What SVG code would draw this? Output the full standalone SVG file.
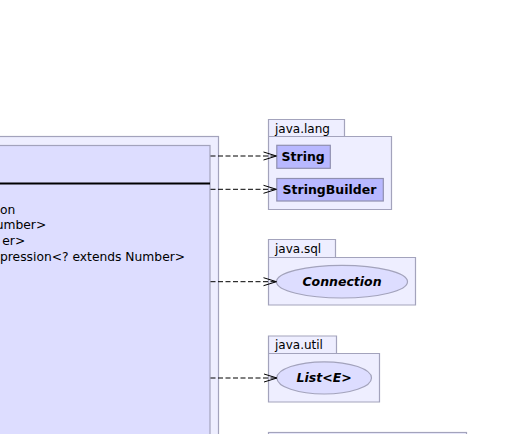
<svg xmlns="http://www.w3.org/2000/svg" width="507" height="434" viewBox="0 0 507 434">
  <defs>
    <style>
      .pkg { fill: #eeeeff; stroke: #a3a3bc; stroke-width: 1.2; }
      .cls { fill: #ddddff; stroke: #a3a3bc; stroke-width: 1.2; }
      .box { fill: #b8b8ff; stroke: #8f8fb0; stroke-width: 1.2; }
      .ell { fill: #ddddff; stroke: #a3a3bc; stroke-width: 1.2; }
      .pkgname { font-family: "DejaVu Sans", sans-serif; font-size: 12px; fill: #000; }
      .bold { font-family: "DejaVu Sans", sans-serif; font-size: 12.5px; font-weight: bold; fill: #000; }
      .ital { font-family: "DejaVu Sans", sans-serif; font-size: 12.5px; font-weight: bold; font-style: italic; fill: #000; }
      .field { font-family: "DejaVu Sans", sans-serif; font-size: 12.3px; fill: #000; }
      .dep { fill: none; stroke: #000; stroke-width: 1; stroke-dasharray: 5,2.5; }
    </style>
    <marker id="open" markerWidth="16" markerHeight="12" refX="14" refY="5" orient="auto" markerUnits="userSpaceOnUse">
      <path d="M1,1 L14,5 L1,9" fill="none" stroke="#000" stroke-width="1"/>
    </marker>
  </defs>

  <g id="main-package">
    <rect class="pkg" x="-10" y="136.5" width="228.5" height="320"/>
  </g>

  <g id="main-class">
    <rect class="cls" x="-10" y="145.5" width="220" height="310"/>
    <line x1="-10" y1="183.5" x2="210" y2="183.5" stroke="#000" stroke-width="2"/>
    <text class="field" x="0" y="213.5">on</text>
    <text class="field" x="-4.3" y="229.3">umber&gt;</text>
    <text class="field" x="2.3" y="245">er&gt;</text>
    <text class="field" x="0" y="260.6">pression&lt;? extends Number&gt;</text>
  </g>

  <g id="java.lang">
    <path class="pkg" d="M268.5,136 L268.5,119.5 L344.5,119.5 L344.5,136.5 L391.5,136.5 L391.5,209.5 L268.5,209.5 Z"/>
    <line x1="268.5" y1="136.5" x2="344.5" y2="136.5" stroke="#a3a3bc" stroke-width="1.2"/>
    <text class="pkgname" x="275" y="132.5">java.lang</text>
  </g>
  <g id="String">
    <rect class="box" x="276.8" y="145.3" width="53.5" height="23"/>
    <text class="bold" x="281.5" y="161">String</text>
  </g>
  <g id="StringBuilder">
    <rect class="box" x="276.8" y="178.5" width="106.5" height="22.5"/>
    <text class="bold" x="282.5" y="194">StringBuilder</text>
  </g>

  <g id="java.sql">
    <path class="pkg" d="M268.5,257 L268.5,239.5 L335.5,239.5 L335.5,257.5 L415.5,257.5 L415.5,305 L268.5,305 Z"/>
    <line x1="268.5" y1="257.5" x2="335.5" y2="257.5" stroke="#a3a3bc" stroke-width="1.2"/>
    <text class="pkgname" x="275" y="252.5">java.sql</text>
  </g>
  <g id="Connection">
    <ellipse class="ell" cx="342" cy="281.7" rx="65.5" ry="16.3"/>
    <text class="ital" x="342" y="286" text-anchor="middle">Connection</text>
  </g>

  <g id="java.util">
    <path class="pkg" d="M268.5,353 L268.5,336 L336.5,336 L336.5,353.5 L379.5,353.5 L379.5,402 L268.5,402 Z"/>
    <line x1="268.5" y1="353.5" x2="336.5" y2="353.5" stroke="#a3a3bc" stroke-width="1.2"/>
    <text class="pkgname" x="275" y="349">java.util</text>
  </g>
  <g id="List">
    <ellipse class="ell" cx="324.2" cy="377.9" rx="47.3" ry="16.1"/>
    <text class="ital" x="324.2" y="382.3" text-anchor="middle">List&lt;E&gt;</text>
  </g>

  <g id="next-package">
    <rect class="pkg" x="268.5" y="432.5" width="198" height="20"/>
  </g>

  <g id="connectors">
    <line class="dep" x1="210.5" y1="156" x2="276.5" y2="156" marker-end="url(#open)"/>
    <line class="dep" x1="210.5" y1="189.3" x2="276.5" y2="189.3" marker-end="url(#open)"/>
    <line class="dep" x1="210.5" y1="281.7" x2="276.5" y2="281.7" marker-end="url(#open)"/>
    <line class="dep" x1="210.5" y1="378" x2="277" y2="378" marker-end="url(#open)"/>
  </g>
</svg>
